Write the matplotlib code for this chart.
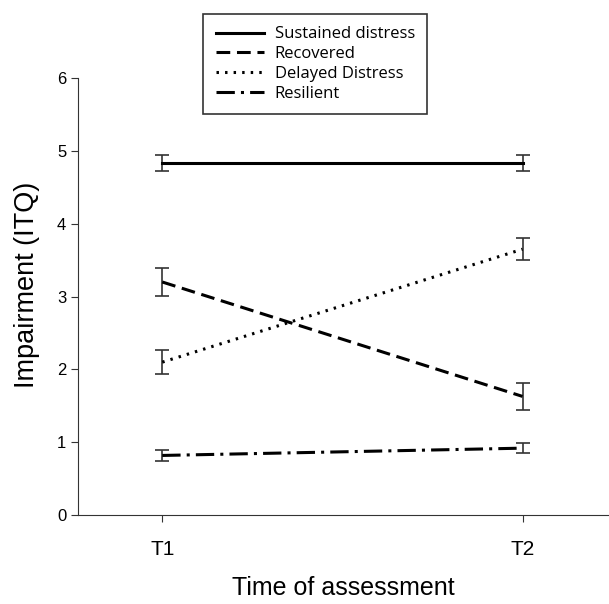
import matplotlib.pyplot as plt
import numpy as np

times = ["T1", "T2"]
groups = ["Sustained distress", "Recovered", "Delayed Distress", "Resilient"]
means = {
    "Sustained distress": [4.83, 4.83],
    "Recovered": [3.2, 1.63],
    "Delayed Distress": [2.1, 3.65],
    "Resilient": [0.82, 0.92],
}
errs = {
    "Sustained distress": [0.11, 0.11],
    "Recovered": [0.19, 0.18],
    "Delayed Distress": [0.16, 0.15],
    "Resilient": [0.07, 0.07],
}
styles = {
    "Sustained distress": "-",
    "Recovered": (0, (4.5, 2.2)),
    "Delayed Distress": (0, (0.8, 2.0)),
    "Resilient": (0, (6, 2, 1, 2)),
}

plt.rcParams['font.family'] = ['Liberation Sans', 'DejaVu Sans']

fig = plt.figure(figsize=(6.09, 6.04), dpi=100)
ax = fig.add_axes([0.128, 0.147, 0.872, 0.724])

x = np.arange(1, len(times) + 1)
handles = []
for g in groups:
    ax.errorbar(x, means[g], yerr=errs[g], fmt='none', ecolor='#333333',
                elinewidth=1.2, capsize=5, capthick=1.2, zorder=2)
    ln, = ax.plot(x, means[g], color='black', lw=2.2, linestyle=styles[g], zorder=3)
    handles.append(ln)

ax.set_xlim(0.766, 2.24)
ax.set_ylim(0, 6)
ax.set_xticks(x)
ax.set_xticklabels(times, fontsize=15)
ax.set_yticks(range(0, 7))
ax.tick_params(axis='y', labelsize=12, length=5, color='#333333')
ax.tick_params(axis='x', length=5, pad=13, color='#333333')
ax.spines['top'].set_visible(False)
ax.spines['right'].set_visible(False)
for s in ['left', 'bottom']:
    ax.spines[s].set_color('#333333')
ax.set_xlabel("Time of assessment", fontsize=18, labelpad=12)
ax.set_ylabel("Impairment (ITQ)", fontsize=19.5)
ax.yaxis.set_label_coords(-0.072, 0.527)

leg = fig.legend(handles, groups, loc='upper left', bbox_to_anchor=(203 / 609, 1 - 14 / 604),
                 prop={'family': 'Open Sans', 'size': 12}, frameon=True, fancybox=False,
                 edgecolor='black', handlelength=2.9, borderpad=0.75, labelspacing=0.22,
                 handletextpad=0.65, borderaxespad=0)
leg.get_frame().set_linewidth(1.2)

fig.savefig("out.png", dpi=100)
